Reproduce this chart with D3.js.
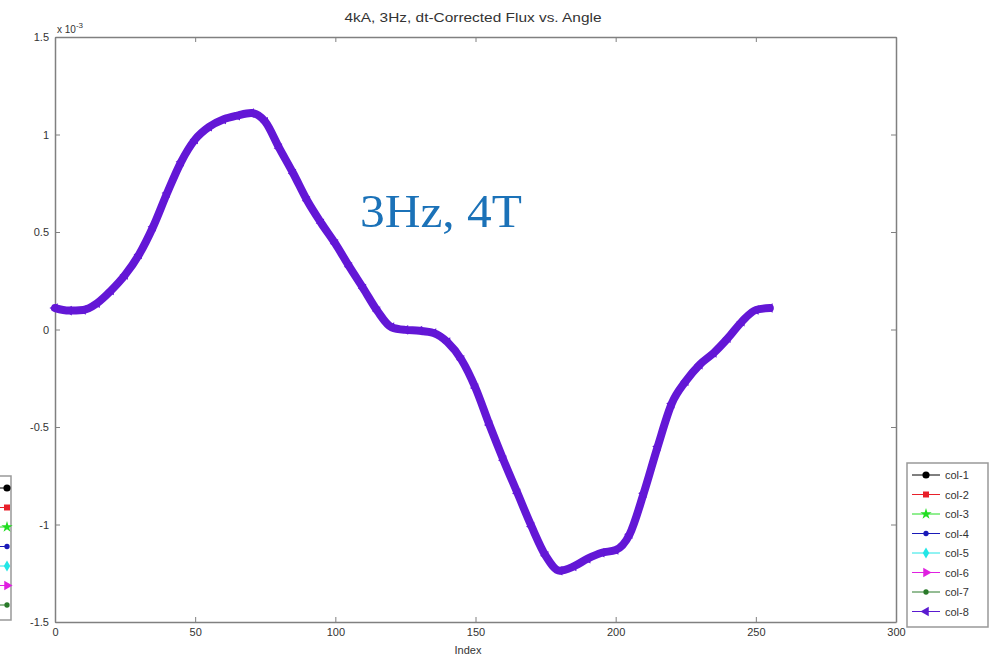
<!DOCTYPE html>
<html><head><meta charset="utf-8">
<script src="https://cdn.jsdelivr.net/npm/d3@7"></script>
<style>body{margin:0;background:#fff;} svg{display:block}</style>
</head><body>
<svg id="chart" width="999" height="658"></svg>
<script>
// ---- data (flux in units of 1e-3) ----
const indexValues = [0,5,10,15,20,25,30,35,40,45,50,55,60,65,70,75,80,85,90,95,100,105,110,115,120,125,130,135,140,145,150,155,160,165,170,175,180,185,190,195,200,205,210,215,220,225,230,235,240,245,250,255];
const fluxValues  = [0.11,0.097,0.10,0.135,0.20,0.28,0.385,0.527,0.70,0.86,0.975,1.04,1.077,1.097,1.11,1.065,0.93,0.80,0.66,0.545,0.44,0.322,0.21,0.095,0.012,-0.002,-0.006,-0.018,-0.065,-0.155,-0.30,-0.49,-0.67,-0.84,-1.01,-1.16,-1.237,-1.215,-1.175,-1.145,-1.131,-1.05,-0.84,-0.60,-0.38,-0.265,-0.18,-0.12,-0.045,0.04,0.10,0.11];
const xTicks = [0,50,100,150,200,250,300];
const yTicks = [-1.5,-1,-0.5,0,0.5,1,1.5];
const legendLabels = ["col-1","col-2","col-3","col-4","col-5","col-6","col-7","col-8"];
const legendColors = ["#000000","#e8202a","#22dd22","#1a1ab8","#22e6e6","#e020e0","#2a7a2a","#5a1ad0"];
const legendMarkers = ["circle","square","star","dot","diamond","right","dot","left"];
const titleText = "4kA, 3Hz, dt-Corrected Flux vs. Angle";
const xLabel = "Index";
const exponentText = "x 10";
const exponentSup = "-3";
const noteText = "3Hz, 4T";
const seriesColor = "#6317d6";

// ---- layout ----
const svg = d3.select("#chart");
const L = 55, R = 896, T = 37, B = 622;
const x = d3.scaleLinear().domain([0,300]).range([L,R]);
const y = d3.scaleLinear().domain([-1.5,1.5]).range([B,T]);
const axisColor = "#808080";
const textColor = "#333";
const font = "Liberation Sans, Arial, sans-serif";

svg.append("rect").attr("width",999).attr("height",658).attr("fill","#fff");

// axes
const fmt = d => String(d);
const gB = svg.append("g").attr("transform",`translate(0,${B})`)
  .call(d3.axisBottom(x).tickValues(xTicks).tickFormat(fmt).tickSizeInner(-5).tickSizeOuter(0).tickPadding(6));
const gT = svg.append("g").attr("transform",`translate(0,${T})`)
  .call(d3.axisTop(x).tickValues(xTicks).tickFormat("").tickSizeInner(-5).tickSizeOuter(0));
const gL = svg.append("g").attr("transform",`translate(${L},0)`)
  .call(d3.axisLeft(y).tickValues(yTicks).tickFormat(fmt).tickSizeInner(-5).tickSizeOuter(0).tickPadding(6));
const gR = svg.append("g").attr("transform",`translate(${R},0)`)
  .call(d3.axisRight(y).tickValues(yTicks).tickFormat("").tickSizeInner(-5).tickSizeOuter(0));
[gB,gT,gL,gR].forEach(g=>{
  g.selectAll("path.domain").attr("stroke",axisColor).attr("stroke-width",1.5);
  g.selectAll(".tick line").attr("stroke",axisColor);
  g.selectAll("text").attr("fill",textColor).attr("font-family",font).attr("font-size",11);
});

// exponent label
const ex = svg.append("text").attr("x",57).attr("y",33).attr("fill",textColor)
  .attr("font-family",font).attr("font-size",10).text(exponentText);
ex.append("tspan").attr("dy",-5).attr("font-size",8).text(exponentSup);

// title
svg.append("text").attr("x",473).attr("y",22).attr("text-anchor","middle")
  .attr("fill",textColor).attr("font-family",font).attr("font-size",12)
  .attr("textLength",257).attr("lengthAdjust","spacingAndGlyphs").text(titleText);

// x label
svg.append("text").attr("x",468).attr("y",654).attr("text-anchor","middle")
  .attr("fill",textColor).attr("font-family",font).attr("font-size",11).text(xLabel);

// series
const line = d3.line().x((d,i)=>x(indexValues[i])).y(d=>y(d)).curve(d3.curveMonotoneX);
svg.append("path").datum(fluxValues).attr("d",line).attr("fill","none")
  .attr("stroke",seriesColor).attr("stroke-width",8).attr("stroke-linejoin","round").attr("stroke-linecap","round");
svg.append("g").selectAll("path").data(fluxValues).join("path")
  .attr("transform",(d,i)=>`translate(${x(indexValues[i])},${y(d)}) rotate(-90)`)
  .attr("d",d3.symbol(d3.symbolTriangle,40)).attr("fill",seriesColor);

// note text
svg.append("text").attr("x",360).attr("y",227).attr("fill","#1b72b8")
  .attr("font-family","Liberation Serif, Times New Roman, serif").attr("font-size",47)
  .attr("textLength",162).attr("lengthAdjust","spacingAndGlyphs").text(noteText);

// legend helper
function markerPath(type){
  switch(type){
    case "circle": return d3.symbol(d3.symbolCircle,40)();
    case "square": return d3.symbol(d3.symbolSquare,36)();
    case "star": return d3.symbol(d3.symbolStar,40)();
    case "dot": return d3.symbol(d3.symbolCircle,22)();
    case "diamond": return d3.symbol(d3.symbolDiamond,36)();
    default: return d3.symbol(d3.symbolTriangle,40)();
  }
}
function drawLegend(g, x0, y0, w, h, lineX1, lineX2, markX, textX, count, withText){
  g.append("rect").attr("x",x0).attr("y",y0).attr("width",w).attr("height",h)
    .attr("fill","#fff").attr("stroke","#999").attr("stroke-width",1.5);
  const rows = g.selectAll("g.row").data(legendLabels.slice(0,count)).join("g")
    .attr("transform",(d,i)=>`translate(0,${y0+12+i*19.5})`);
  rows.append("line").attr("x1",lineX1).attr("x2",lineX2).attr("y1",0).attr("y2",0)
    .attr("stroke",(d,i)=>legendColors[i]).attr("stroke-width",1);
  rows.append("path").attr("d",(d,i)=>markerPath(legendMarkers[i]))
    .attr("transform",(d,i)=>`translate(${markX},0) rotate(${legendMarkers[i]==="right"?90:legendMarkers[i]==="left"?-90:0})`)
    .attr("fill",(d,i)=>legendColors[i]);
  if(withText){
    rows.append("text").attr("x",textX).attr("y",4).attr("fill",textColor)
      .attr("font-family",font).attr("font-size",11).text(d=>d);
  }
}
drawLegend(svg.append("g"), 907, 463, 81, 164, 912, 940, 926, 945, 8, true);
// cropped fragment of a legend on the left edge (markers only)
drawLegend(svg.append("g"), -70, 476, 81, 144, -66, 7, 7, 20, 7, false);
</script>
</body></html>
